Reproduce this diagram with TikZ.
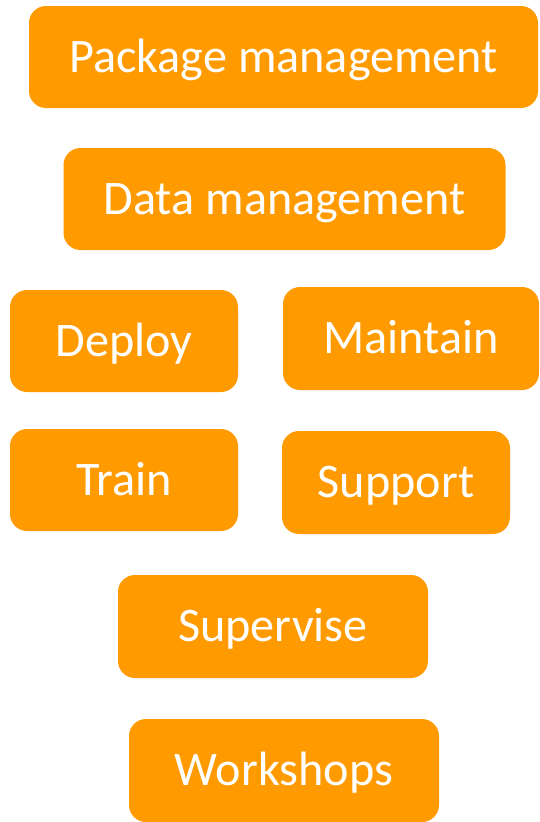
\documentclass[tikz,border=0pt]{standalone}
\usepackage{fontspec}
\setmainfont{Carlito}
\usepackage{tikz}

\definecolor{taskorange}{RGB}{255,155,0}

\begin{document}
\begin{tikzpicture}[x=1pt,y=-1pt]
		\tikzstyle{every node}+=[inner sep=0pt]
		\tikzstyle{task}=[fill=taskorange, rounded corners=17pt, text=white,
			font=\fontsize{48.2}{52}\selectfont, text height=30pt, text depth=0pt,
			minimum height=102pt]
		\useasboundingbox [fill=white] (0,0) rectangle (539,822);
		\node [task, minimum width=509pt] (pkg) at (283.5,57) {Package management};
		\node [task, minimum width=442pt] (data) at (284.5,199) {Data management};
		\node [task, minimum width=228pt] (deploy) at (124,341) {Deploy};
		\node [task, minimum width=256pt, minimum height=103pt] (maintain) at (411,338.5) {Maintain};
		\node [task, minimum width=228pt] (train) at (124,480) {Train};
		\node [task, minimum width=228pt, minimum height=103pt] (support) at (396,482.5) {Support};
		\node [task, minimum width=310pt, minimum height=103pt] (supervise) at (273,626.5) {Supervise};
		\node [task, minimum width=310pt, minimum height=103pt] (workshops) at (284,770.5) {Workshops};
\end{tikzpicture}
\end{document}
